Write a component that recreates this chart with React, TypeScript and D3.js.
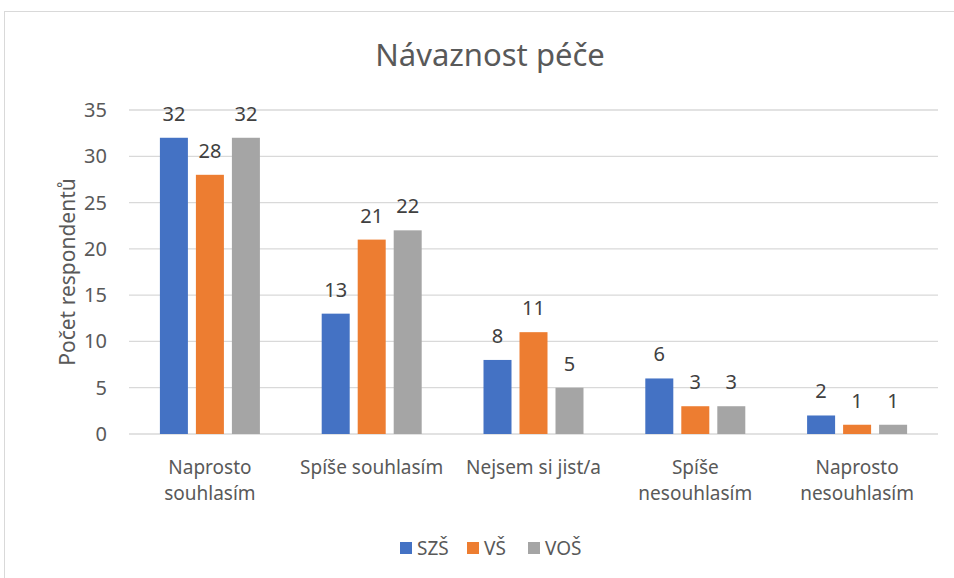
import React from 'react'
import * as d3 from 'd3'

const categories = [
  ['Naprosto', 'souhlasím'],
  ['Spíše souhlasím'],
  ['Nejsem si jist/a'],
  ['Spíše', 'nesouhlasím'],
  ['Naprosto', 'nesouhlasím'],
]
const seriesNames = ['SZŠ', 'VŠ', 'VOŠ']
const szs = [32, 13, 8, 6, 2]
const vs = [28, 21, 11, 3, 1]
const vos = [32, 22, 5, 3, 1]
const yTicks = [0, 5, 10, 15, 20, 25, 30, 35]
const colors = ['#4472C4', '#ED7D31', '#A5A5A5']

const W = 954
const H = 578
const FONT = '"Noto Sans", sans-serif'

export default function App() {
  const series = [szs, vs, vos]

  // plot area
  const left = 129
  const right = 938
  const top = 110
  const bottom = 434

  const x0 = d3.scaleBand<number>()
    .domain(categories.map((_, i) => i))
    .range([left, right])
  const x1 = d3.scaleBand<number>()
    .domain(seriesNames.map((_, i) => i))
    .range([-54, 54])
    .paddingInner(8 / 36)
    .paddingOuter(4 / 36)
  const y = d3.scaleLinear().domain([0, 35]).range([bottom, top])

  return (
    <svg width={W} height={H} style={{ position: 'absolute', left: 0, top: 0 }} fontFamily={FONT}>
      <rect x={0} y={0} width={W} height={H} fill="#fff" />
      <rect x={4.5} y={11.5} width={W + 10} height={H + 10} fill="none" stroke="#D9D9D9" />

      <text x={490} y={66} textAnchor="middle" fontSize={31} fill="#595959">Návaznost péče</text>

      {/* grid + y ticks */}
      {yTicks.map(t => (
        <g key={t}>
          <line x1={left} x2={right} y1={y(t)} y2={y(t)} stroke="#D9D9D9" strokeWidth={1.3} />
          <text x={107} y={y(t)} dy="0.35em" textAnchor="end" fontSize={20} fill="#595959">{t}</text>
        </g>
      ))}

      <text
        transform={`translate(68, ${(top + bottom) / 2}) rotate(-90)`}
        textAnchor="middle"
        dy="0.35em"
        fontSize={21}
        fill="#595959"
      >Počet respondentů</text>

      {/* bars */}
      {categories.map((_, ci) => {
        const cx = x0(ci)! + x0.bandwidth() / 2
        return (
          <g key={ci}>
            {series.map((vals, si) => {
              const bx = cx + x1(si)!
              const v = vals[ci]
              return (
                <g key={si}>
                  <rect x={bx} y={y(v)} width={x1.bandwidth()} height={bottom - y(v)} fill={colors[si]} />
                  <text x={bx + x1.bandwidth() / 2} y={y(v) - 17} textAnchor="middle" fontSize={20} fill="#404040">{v}</text>
                </g>
              )
            })}
            <text x={cx} y={474} textAnchor="middle" fontSize={19} fill="#595959">
              {categories[ci].map((line, li) => (
                <tspan key={li} x={cx} dy={li === 0 ? 0 : 26}>{line}</tspan>
              ))}
            </text>
          </g>
        )
      })}

      {/* legend */}
      {seriesNames.map((name, i) => {
        const lx = [400, 467, 528][i]
        return (
          <g key={name}>
            <rect x={lx} y={542} width={12} height={12} fill={colors[i]} />
            <text x={lx + 17} y={548} dy="0.35em" fontSize={19} fill="#595959">{name}</text>
          </g>
        )
      })}
    </svg>
  )
}
